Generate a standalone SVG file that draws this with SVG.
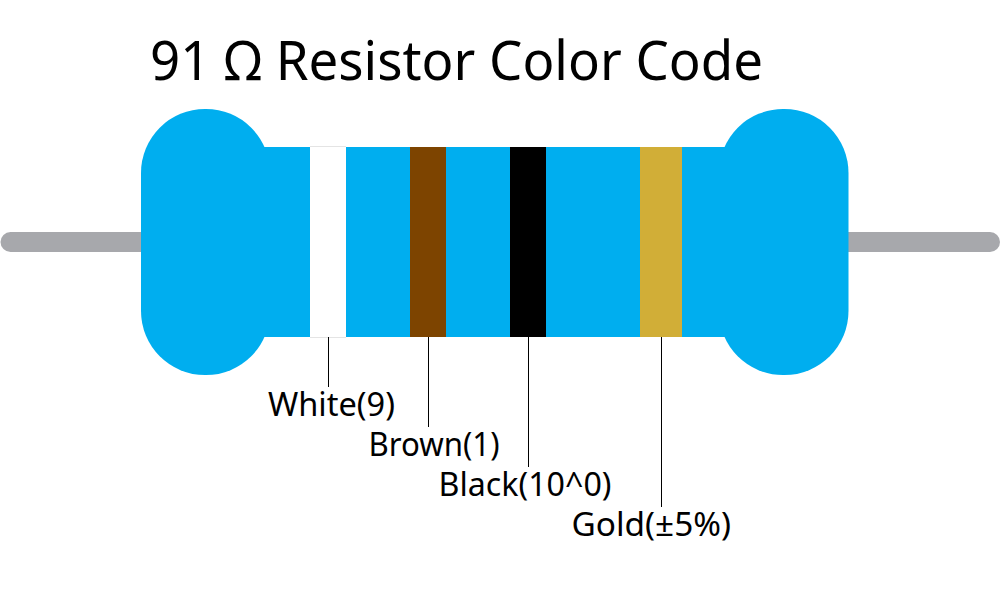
<svg xmlns="http://www.w3.org/2000/svg" width="1006" height="607" viewBox="0 0 1006 607">
<style>
text{font-family:"Noto Sans","Open Sans","Liberation Sans",sans-serif;fill:#000}
.label{font-size:33px}
.title{font-size:54px}
.body{fill:#00aeef}
.conn{stroke:#000;stroke-width:1;fill:none}
</style>
<rect width="1006" height="607" fill="#fff"/>
<g id="resistor">
<rect id="lead" x="0.500" y="232" width="999.500" height="20" rx="10" fill="#a7a8ac"/>
<rect class="body" x="141" y="109" width="129" height="266" rx="64" ry="64"/>
<rect class="body" x="719" y="109" width="129.500" height="266" rx="64" ry="64"/>
<rect class="body" x="205" y="147" width="580" height="190"/>
</g>
<g id="band-white"><rect x="310" y="147" width="36" height="190" fill="#fff"/><path d="M310 146.500H346M310 337.500H346" stroke="#e4e4e4" stroke-width="1"/></g>
<g id="band-brown"><rect x="410" y="147" width="36" height="190" fill="#7d4400"/></g>
<g id="band-black"><rect x="510" y="147" width="36" height="190" fill="#000"/></g>
<g id="band-gold"><rect x="640" y="147" width="42" height="190" fill="#d1ae37"/></g>
<g id="connectors">
<path class="conn" d="M328.500 337V387"/>
<path class="conn" d="M428.500 337V427"/>
<path class="conn" d="M528.500 337V467"/>
<path class="conn" d="M661.500 337V507"/>
</g>
<text class="title" x="150" y="80" textLength="613" lengthAdjust="spacingAndGlyphs">91 Ω Resistor Color Code</text>
<text class="label" x="268" y="415.500" textLength="127" lengthAdjust="spacingAndGlyphs">White(9)</text>
<text class="label" x="368.500" y="455.500" textLength="131" lengthAdjust="spacingAndGlyphs">Brown(1)</text>
<text class="label" x="438.500" y="495.500" textLength="173" lengthAdjust="spacingAndGlyphs">Black(10^0)</text>
<text class="label" x="571.500" y="535.500" textLength="159.500" lengthAdjust="spacingAndGlyphs">Gold(±5%)</text>
</svg>
